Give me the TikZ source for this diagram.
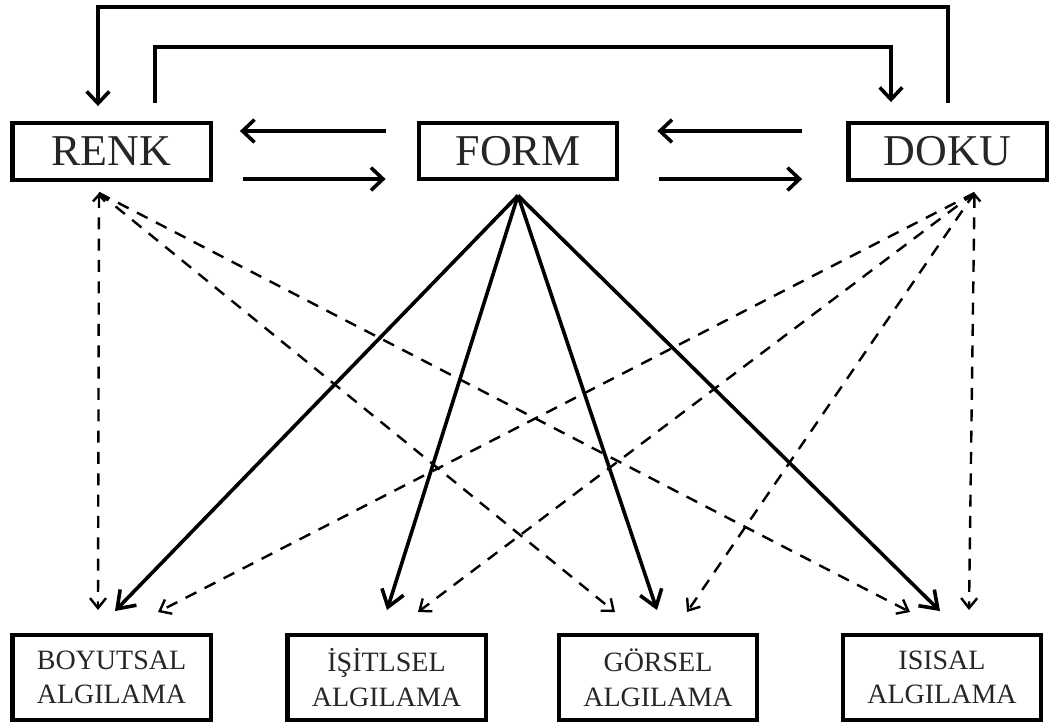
\documentclass[tikz,border=0pt]{standalone}
\usepackage{fontspec}
\setmainfont{Liberation Serif}
\usetikzlibrary{arrows.meta,calc}
\begin{document}
\begin{tikzpicture}[x=0.75pt,y=-0.75pt,
  topbox/.style={draw,line width=3.3pt,inner sep=0pt,minimum width=148.8pt,minimum height=42.4pt,font=\fontsize{33}{33}\selectfont,text=black!85},
  botbox/.style={draw,line width=3.3pt,inner sep=0pt,minimum width=148.8pt,minimum height=63.4pt,align=center,font=\fontsize{21}{26}\selectfont,text=black!85},
  toparr/.style={line width=2.7pt,-{Straight Barb[length=9pt,width=17pt]}},
  formarr/.style={line width=2.7pt,-{Straight Barb[length=12pt,width=17pt]}},
  dasharr/.style={line width=1.8pt,dash pattern=on 9pt off 7pt,-{Straight Barb[length=7.5pt,width=12pt]}},
  dashboth/.style={dasharr,{Straight Barb[length=5pt,width=9pt]}-{Straight Barb[length=7.5pt,width=12pt]}}
]
\useasboundingbox (0,0) rectangle (1051,726);
% top boxes
\node[topbox] (renk) at (111.5,151.5) {RENK};
\node[topbox] (form) at (518,151) {FORM};
\node[topbox] (doku) at (947.5,151.5) {DOKU};
% bottom boxes
\node[botbox] (boy) at (111.5,677.5) {BOYUTSAL\\ALGILAMA};
\node[botbox] (isit) at (386.5,677.5) {İŞİTLSEL\\ALGILAMA};
\node[botbox] (gor) at (658,677.5) {GÖRSEL\\ALGILAMA};
\node[botbox] (isi) at (942,677.5) {ISISAL\\ALGILAMA};
% feedback loops over the top
\draw[toparr] ($(doku.north)+(0.5,-18)$) -- ++(0,-96) -| ($(renk.north)+(-13.5,-15)$);
\draw[toparr] ($(renk.north)+(43.5,-18)$) -- ++(0,-56) -| ($(doku.north)+(-56.5,-19)$);
% horizontal arrows
\draw[toparr] ($(form.west)+(-31,-20)$) -- ($(renk.east)+(27,-20.5)$);
\draw[toparr] ($(renk.east)+(30,27.5)$) -- ($(form.west)+(-31,28)$);
\draw[toparr] ($(doku.west)+(-44,-20.5)$) -- ($(form.east)+(38,-20)$);
\draw[toparr] ($(form.east)+(40,28)$) -- ($(doku.west)+(-44,27.5)$);
% named sources
\coordinate (rs) at ($(renk.south)+(-12.5,11)$);
\coordinate (fs) at ($(form.south)+(0,14)$);
\coordinate (ds) at ($(doku.south)+(27,11)$);
% solid arrows from FORM
\draw[formarr] (fs) -- ($(boy.north)+(3.5,-22)$);
\draw[formarr] (fs) -- ($(isit.north)+(0.5,-23)$);
\draw[formarr] (fs) -- ($(gor.north)+(-1,-23)$);
\draw[formarr] (fs) -- ($(isi.north)+(-2,-22)$);
% dashed arrows from RENK
\draw[dashboth] (rs) -- ($(boy.north)+(-13.5,-23)$);
\draw[dasharr] (rs) -- ($(gor.north)+(-43,-21)$);
\draw[dasharr] (rs) -- ($(isi.north)+(-32,-21)$);
% dashed arrows from DOKU
\draw[dashboth] (ds) -- ($(isi.north)+(27,-23)$);
\draw[dasharr] (ds) -- ($(boy.north)+(46.5,-21)$);
\draw[dasharr] (ds) -- ($(isit.north)+(31.5,-21)$);
\draw[dasharr] (ds) -- ($(gor.north)+(29,-21)$);
\end{tikzpicture}
\end{document}
